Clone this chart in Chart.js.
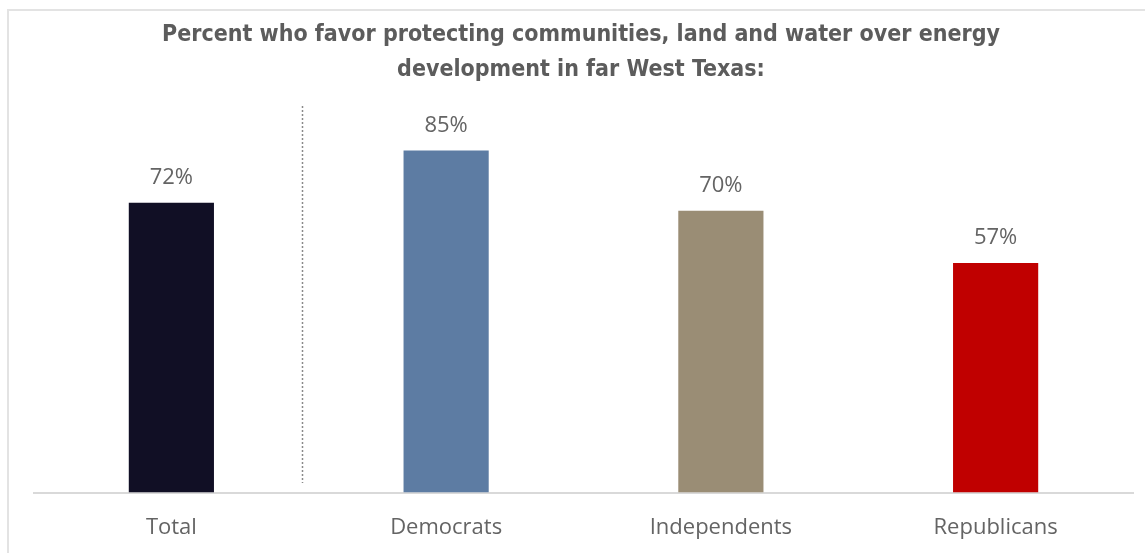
<!DOCTYPE html>
<html>
<head>
<meta charset="utf-8">
<script src="https://cdn.jsdelivr.net/npm/chart.js@4.4.0/dist/chart.umd.min.js"></script>
<style>
  html, body { margin: 0; padding: 0; background: #fff; }
  #wrap { position: relative; width: 1145px; height: 553px; }
  #frame { position: absolute; left: 7px; top: 9px; right: 0; bottom: 0; border-left: 2px solid #e3e3e3; border-top: 2px solid #e3e3e3; pointer-events: none; }
  canvas { position: absolute; left: 0; top: 0; }
</style>
</head>
<body>
<div id="wrap">
  <canvas id="c" width="1145" height="553"></canvas>
  <div id="frame"></div>
</div>
<script>
const titleLines = ["Percent who favor protecting communities, land and water over energy", "development in far West Texas:"];
const categories = ["Total", "Democrats", "Independents", "Republicans"];
const values = [72, 85, 70, 57];
const barColors = ["#110f25", "#5d7ca3", "#9a8d75", "#c00000"];
const dividerPosition = 0.475;

const textColor = "#646464";

const overlay = {
  id: "overlay",
  afterDatasetsDraw(chart) {
    const ctx = chart.ctx;
    const meta = chart.getDatasetMeta(0);
    ctx.save();
    ctx.fillStyle = textColor;
    ctx.font = "22px 'Open Sans', Lato, sans-serif";
    ctx.textAlign = "center";
    ctx.textBaseline = "middle";
    meta.data.forEach((bar, i) => {
      ctx.fillText(values[i] + "%", bar.x, bar.y - 25);
    });
    // title
    ctx.fillStyle = "#5c5c5c";
    ctx.font = "bold 23px 'DejaVu Sans Condensed', Lato, sans-serif";
    ctx.fillText(titleLines[0], 581, 35);
    ctx.fillText(titleLines[1], 581, 70);
    // dotted divider
    const xs = chart.scales.x;
    const dx = Math.round(xs.getPixelForValue(dividerPosition)) + 0.5;
    ctx.strokeStyle = "#8a8a8a";
    ctx.lineWidth = 1.5;
    ctx.setLineDash([2, 2]);
    ctx.beginPath();
    ctx.moveTo(dx, 106);
    ctx.lineTo(dx, 483);
    ctx.stroke();
    ctx.restore();
  }
};

new Chart(document.getElementById("c"), {
  type: "bar",
  data: {
    labels: categories,
    datasets: [{
      data: values,
      backgroundColor: barColors,
      categoryPercentage: 1,
      barPercentage: 0.31
    }]
  },
  options: {
    responsive: false,
    animation: false,
    layout: { padding: { left: 34, right: 12, top: 90, bottom: -2 } },
    plugins: { legend: { display: false }, tooltip: { enabled: false }, title: { display: false } },
    scales: {
      x: {
        grid: { display: false },
        border: { display: true, color: "#d9d9d9", width: 2 },
        ticks: { color: textColor, font: { family: "'Open Sans', Lato, sans-serif", size: 22 }, padding: 14 }
      },
      y: { display: false, min: 0, max: 100 }
    }
  },
  plugins: [overlay]
});
</script>
</body>
</html>
